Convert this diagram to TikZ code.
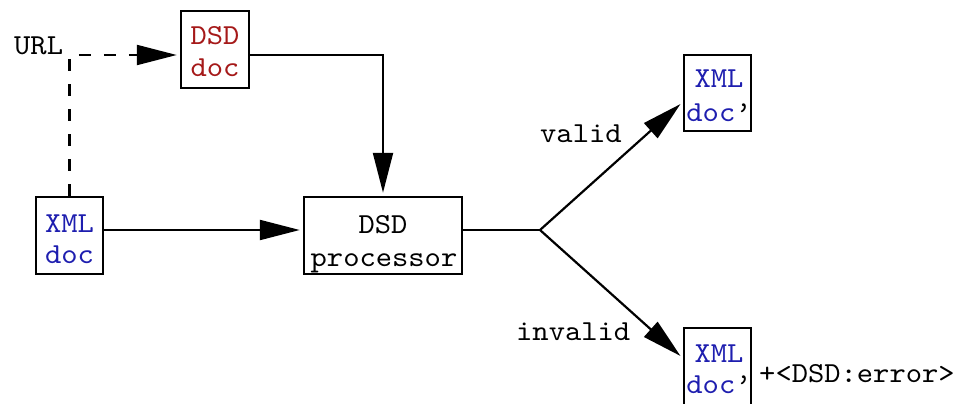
\documentclass[tikz,border=0pt]{standalone}
\usepackage{fontspec}
\newfontfamily\courfont{lmmono10-regular.otf}[FakeStretch=1.07]
\usetikzlibrary{arrows.meta,calc}
\definecolor{dsdred}{RGB}{165,25,25}
\definecolor{xmlblue}{RGB}{30,30,175}
\begin{document}
\begin{tikzpicture}[x=1pt,y=-1pt,
  every node/.style={font=\courfont\fontsize{29}{32}\selectfont, inner sep=0pt},
  box/.style={draw, line width=2.5pt, minimum height=77pt},
  txt/.style={anchor=base},
  lbl/.style={anchor=base west},
  link/.style={line width=2.2pt},
  tip/.style={-{Triangle[length=40pt,width=20pt]}, shorten >=3pt},
]
\useasboundingbox (0,0) rectangle (953,404);

% documents and processor (frames)
\node[box, minimum width=68pt] (dsddoc) at (215,49.5) {};
\node[box, minimum width=67pt] (xmlin) at (69.5,235.5) {};
\node[box, minimum width=158pt] (proc) at (383,235.5) {};
\node[box, minimum width=67pt, minimum height=76pt] (xmlok) at (717.5,93) {};
\node[box, minimum width=67pt] (xmlbad) at (717.5,366.5) {};

% their two-line captions
\node[txt, text=dsdred] (dsddoc-a) at (215,45) {DSD};
\node[txt, text=dsdred] (dsddoc-b) at (215,77) {doc};
\node[txt, text=xmlblue] (xmlin-a) at (69.5,232) {XML};
\node[txt, text=xmlblue] (xmlin-b) at (69.5,263) {doc};
\node[txt] (proc-a) at (383,233) {DSD};
\node[txt] (proc-b) at (384,266) {processor};
\node[txt, text=xmlblue] (xmlok-a) at (719,88) {XML};
\node[txt, text=xmlblue] (xmlok-b) at (719,121) {doc\textcolor{black}{’}};
\node[txt, text=xmlblue] (xmlbad-a) at (719,362) {XML};
\node[txt, text=xmlblue] (xmlbad-b) at (719,393) {doc\textcolor{black}{’}};

% labels
\node[lbl] (url) at (14,55) {URL};
\node[lbl] (valid) at (540,142) {valid};
\node[lbl] (invalid) at (516,340) {invalid};
\node[lbl] (err) at (759,382) {+<DSD:error>};

% connectors
\draw[link, dash pattern=on 12pt off 13pt, tip] (xmlin.north) |- ([yshift=-5.5pt]dsddoc.west);
\draw[link, tip] ([yshift=-5.5pt]dsddoc.east) -| (proc.north);
\draw[link, tip] ([yshift=5.5pt]xmlin.east) -- ([yshift=5.5pt]proc.west);
\coordinate (fork) at (540,230);
\draw[link] ([yshift=5.5pt]proc.east) -- (fork);
\draw[link, tip] (fork) -- ([yshift=-9pt]xmlok.west);
\draw[link, tip] (fork) -- ([yshift=8.5pt]xmlbad.west);
\end{tikzpicture}
\end{document}
